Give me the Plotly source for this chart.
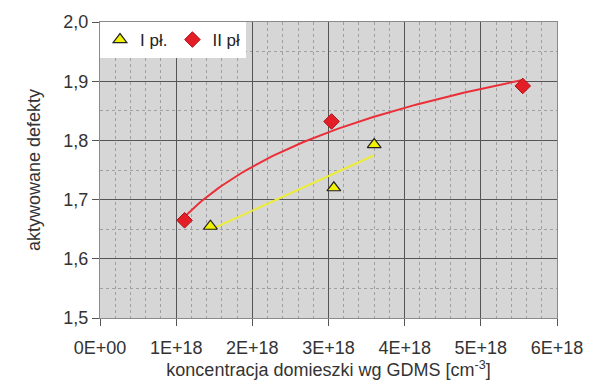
import numpy as np
import plotly.graph_objects as go

# Data
x_I = [1.45e18, 3.07e18, 3.60e18]
y_I = [1.655, 1.720, 1.793]
x_II = [1.11e18, 3.04e18, 5.55e18]
y_II = [1.665, 1.832, 1.892]

x_tickvals = [0, 1e18, 2e18, 3e18, 4e18, 5e18, 6e18]
x_ticktext = ["0E+00", "1E+18", "2E+18", "3E+18", "4E+18", "5E+18", "6E+18"]
y_tickvals = [1.5, 1.6, 1.7, 1.8, 1.9, 2.0]
y_ticktext = ["1,5", "1,6", "1,7", "1,8", "1,9", "2,0"]

# Trendlines: linear for series I, logarithmic for series II
xa = np.array(x_I)
b1, a1 = np.polyfit(xa, np.array(y_I), 1)
tx1 = np.linspace(xa.min(), xa.max(), 50)
ty1 = a1 + b1 * tx1

xb = np.array(x_II)
b2, a2 = np.polyfit(np.log(xb), np.array(y_II), 1)
tx2 = np.linspace(xb.min(), xb.max(), 100)
ty2 = a2 + b2 * np.log(tx2)

FONT = "Liberation Sans, Arial, sans-serif"
TXT = "#333333"

fig = go.Figure()
fig.add_trace(go.Scatter(x=tx1, y=ty1, mode="lines", line=dict(color="#ecec3a", width=2),
                         showlegend=False, hoverinfo="skip"))
fig.add_trace(go.Scatter(x=tx2, y=ty2, mode="lines", line=dict(color="#ea2f38", width=2),
                         showlegend=False, hoverinfo="skip"))
fig.add_trace(go.Scatter(x=x_I, y=y_I, mode="markers", name="I pł.",
                         marker=dict(symbol="triangle-up", size=12, color="#f2f200",
                                     line=dict(color="#222222", width=1.2))))
fig.add_trace(go.Scatter(x=x_II, y=y_II, mode="markers", name="II pł",
                         marker=dict(symbol="diamond", size=12, color="#e41e26",
                                     line=dict(color="#b01015", width=1))))

axis_common = dict(
    showline=True, linecolor="#8a8a8a", linewidth=1, mirror=True,
    showgrid=True, gridcolor="#555555", gridwidth=1.3,
    ticks="outside", ticklen=7, tickcolor="#555555",
    tickfont=dict(family=FONT, size=18, color=TXT),
    zeroline=False,
)

fig.update_xaxes(
    range=[0, 6e18], tickmode="array", tickvals=x_tickvals, ticktext=x_ticktext,
    ticklabelstandoff=6,
    minor=dict(dtick=0.2e18, tick0=0, showgrid=True, gridcolor="#a0a0a0", griddash="dot", gridwidth=1),
    title=dict(text="koncentracja domieszki wg GDMS [cm<sup>-3</sup>]", standoff=6,
               font=dict(family=FONT, size=18, color=TXT)),
    **axis_common,
)
fig.update_yaxes(
    range=[1.5, 2.0], tickmode="array", tickvals=y_tickvals, ticktext=y_ticktext,
    minor=dict(dtick=0.05, tick0=1.5, showgrid=True, gridcolor="#a0a0a0", griddash="dot", gridwidth=1),
    title=dict(text="aktywowane defekty", standoff=18,
               font=dict(family=FONT, size=18, color=TXT)),
    **axis_common,
)

fig.update_layout(
    width=595, height=388,
    margin=dict(l=100, r=30, t=20, b=68),
    paper_bgcolor="white", plot_bgcolor="#d6d6d6",
    legend=dict(x=0, y=1, xanchor="left", yanchor="top", orientation="h",
                bgcolor="white", borderwidth=0, itemwidth=30,
                font=dict(family=FONT, size=17, color="#222222"),
                tracegroupgap=0),
    showlegend=True,
)

fig.write_html("out.html")
